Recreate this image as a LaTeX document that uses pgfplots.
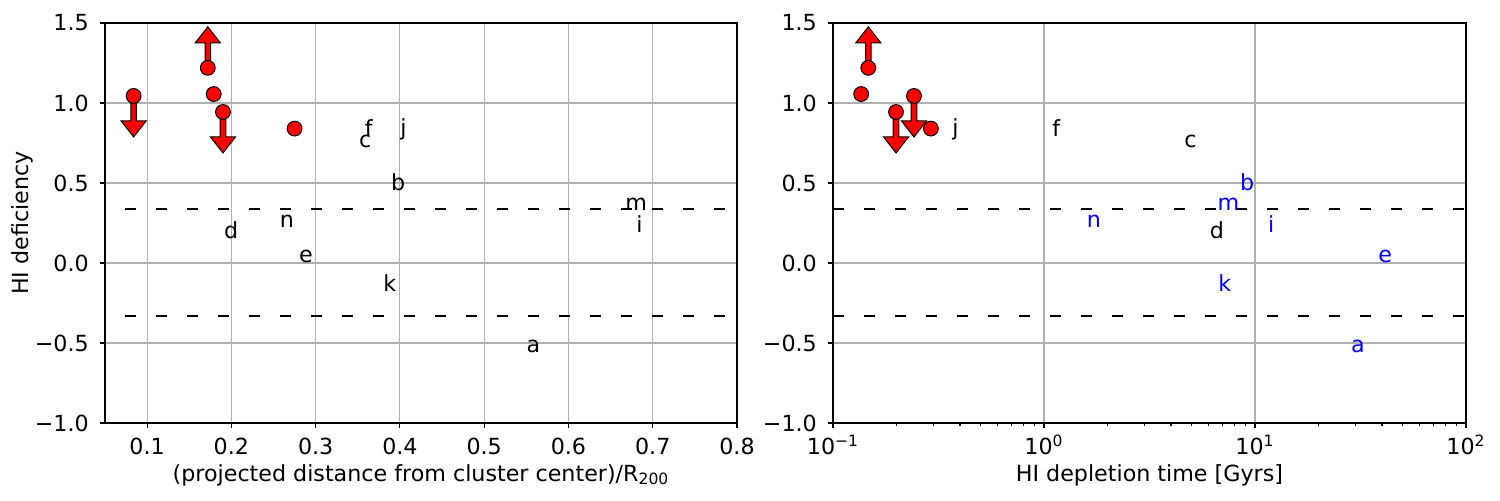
\documentclass[border=0pt]{standalone}
\usepackage{fontspec}
\setmainfont{DejaVu Sans}
\usepackage{pgfplots}
\usepackage{pgfplotstable}
\pgfplotsset{compat=1.18}
\definecolor{gridc}{HTML}{B0B0B0}
\definecolor{mblue}{RGB}{0,0,255}
\definecolor{mred}{RGB}{255,0,0}

\pgfdeclareplotmark{uparr}{%
 \pgfpathmoveto{\pgfpoint{-1.4pt}{0pt}}%
 \pgfpathlineto{\pgfpoint{-1.4pt}{12.5pt}}%
 \pgfpathlineto{\pgfpoint{-6.25pt}{12.5pt}}%
 \pgfpathlineto{\pgfpoint{0pt}{20.5pt}}%
 \pgfpathlineto{\pgfpoint{6.25pt}{12.5pt}}%
 \pgfpathlineto{\pgfpoint{1.4pt}{12.5pt}}%
 \pgfpathlineto{\pgfpoint{1.4pt}{0pt}}%
 \pgfpathclose
 \pgfusepathqfillstroke}
\pgfdeclareplotmark{downarr}{%
 \pgfpathmoveto{\pgfpoint{-1.4pt}{0pt}}%
 \pgfpathlineto{\pgfpoint{-1.4pt}{-12.5pt}}%
 \pgfpathlineto{\pgfpoint{-6.25pt}{-12.5pt}}%
 \pgfpathlineto{\pgfpoint{0pt}{-20.5pt}}%
 \pgfpathlineto{\pgfpoint{6.25pt}{-12.5pt}}%
 \pgfpathlineto{\pgfpoint{1.4pt}{-12.5pt}}%
 \pgfpathlineto{\pgfpoint{1.4pt}{0pt}}%
 \pgfpathclose
 \pgfusepathqfillstroke}

% left panel: projected distance / R200
\pgfplotstableread{
x y label
0.358 0.791 f
0.400 0.796 j
0.351 0.719 c
0.389 0.455 b
0.667 0.330 m
0.680 0.192 i
0.257 0.222 n
0.191 0.156 d
0.280 0.001 e
0.380 -0.175 k
0.550 -0.557 a
}\leftletters
\pgfplotstableread{
x y
0.084 1.044
0.172 1.220
0.179 1.056
0.190 0.944
0.275 0.840
}\leftcircles
\pgfplotstableread{
x y
0.172 1.220
}\leftup
\pgfplotstableread{
x y
0.084 1.044
0.190 0.944
}\leftdown

% right panel: depletion time
\pgfplotstableread{
x y label
0.366 0.796 j
1.09 0.791 f
4.61 0.719 c
6.08 0.156 d
}\rightblack
\pgfplotstableread{
x y label
8.46 0.455 b
6.62 0.330 m
11.5 0.192 i
1.59 0.222 n
38.3 0.001 e
6.68 -0.175 k
28.4 -0.557 a
}\rightblue
\pgfplotstableread{
x y
0.147 1.220
0.136 1.056
0.199 0.944
0.242 1.044
0.291 0.840
}\rightcircles
\pgfplotstableread{
x y
0.147 1.220
}\rightup
\pgfplotstableread{
x y
0.199 0.944
0.242 1.044
}\rightdown

\pgfplotsset{panel/.style={
  scale only axis, height=200pt, anchor=south west,
  ymin=-1, ymax=1.5,
  ytick={-1,-0.5,0,0.5,1,1.5},
  yticklabels={−1.0,−0.5,0.0,0.5,1.0,1.5},
  grid=major, major grid style={gridc, line width=0.55pt},
  tick align=outside, xtick pos=left, ytick pos=left,
  major tick length=2.4pt, minor tick length=1.4pt,
  every tick/.style={black, line width=0.55pt},
  axis line style={line width=0.55pt},
  xticklabel style={anchor=base, inner sep=0pt, yshift=-13.5pt},
  yticklabel style={anchor=east, inner sep=0pt, xshift=-5.5pt},
  xlabel style={at={(axis description cs:0.5,-0.145)}, anchor=base, inner sep=0pt},
  ylabel style={at={(axis description cs:-0.1218,0.5)}, anchor=base, inner sep=0pt},
  clip mode=individual,
  every node near coord/.append style={anchor=base west, inner sep=0pt},
}}

\begin{document}
\fontsize{11.1pt}{13.3pt}\selectfont
\begin{tikzpicture}
\begin{axis}[panel, at={(52.5pt,38.5pt)}, width=316pt,
  xmin=0.05, xmax=0.8,
  xtick={0.1,0.2,0.3,0.4,0.5,0.6,0.7,0.8},
  xticklabels={0.1,0.2,0.3,0.4,0.5,0.6,0.7,0.8},
  xlabel={(projected distance from cluster center)/R\textsubscript{200}},
  ylabel={HI deficiency}]
\addplot[black, line width=1pt, dash pattern=on 5.5pt off 10pt] coordinates {(0,0.338) (0.8,0.338)};
\addplot[black, line width=1pt, dash pattern=on 5.5pt off 10pt] coordinates {(0,-0.331) (0.8,-0.331)};
\addplot[only marks, mark=none, nodes near coords, point meta=explicit symbolic,
  every node near coord/.append style={text=black}] table[meta=label] {\leftletters};
\addplot[only marks, mark=uparr, mark options={fill=mred, draw=black, line width=0.5pt}] table {\leftup};
\addplot[only marks, mark=downarr, mark options={fill=mred, draw=black, line width=0.5pt}] table {\leftdown};
\addplot[only marks, mark=*, mark size=3.7pt, mark options={fill=mred, draw=black, line width=0.5pt}] table {\leftcircles};
\end{axis}

\begin{axis}[panel, at={(416.5pt,38.5pt)}, width=316.5pt,
  xmode=log, xmin=0.1, xmax=100,
  xtick={0.1,1,10,100},
  xticklabels={10\textsuperscript{−1},10\textsuperscript{0},10\textsuperscript{1},10\textsuperscript{2}},
  minor xtick={0.2,0.3,0.4,0.5,0.6,0.7,0.8,0.9,2,3,4,5,6,7,8,9,20,30,40,50,60,70,80,90},
  xlabel={HI depletion time [Gyrs]}]
\addplot[black, line width=1pt, dash pattern=on 5.5pt off 10pt] coordinates {(0.1,0.338) (100,0.338)};
\addplot[black, line width=1pt, dash pattern=on 5.5pt off 10pt] coordinates {(0.1,-0.331) (100,-0.331)};
\addplot[only marks, mark=none, nodes near coords, point meta=explicit symbolic,
  every node near coord/.append style={text=black}] table[meta=label] {\rightblack};
\addplot[only marks, mark=none, nodes near coords, point meta=explicit symbolic,
  every node near coord/.append style={text=mblue}] table[meta=label] {\rightblue};
\addplot[only marks, mark=uparr, mark options={fill=mred, draw=black, line width=0.5pt}] table {\rightup};
\addplot[only marks, mark=downarr, mark options={fill=mred, draw=black, line width=0.5pt}] table {\rightdown};
\addplot[only marks, mark=*, mark size=3.7pt, mark options={fill=mred, draw=black, line width=0.5pt}] table {\rightcircles};
\end{axis}
\pgfresetboundingbox
\path (0,0) rectangle (750pt,250pt);
\end{tikzpicture}
\end{document}
